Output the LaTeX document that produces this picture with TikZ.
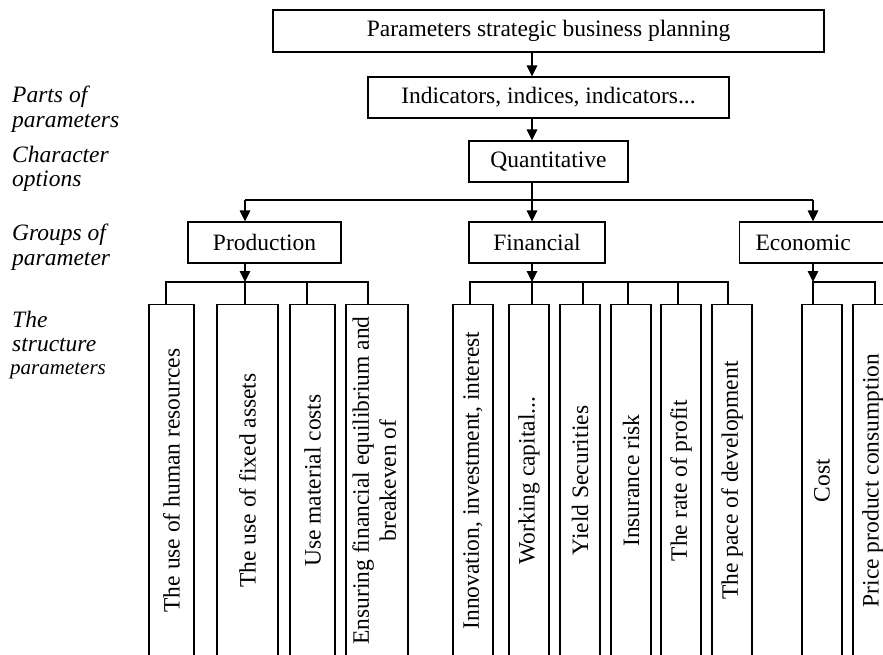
\documentclass[tikz,border=0pt]{standalone}
\usepackage{fontspec}
\setmainfont{Liberation Serif}
\usepackage{graphicx}
\usetikzlibrary{arrows.meta}
\begin{document}
\begin{tikzpicture}[x=1pt,y=-1pt,
  font=\fontsize{23.5}{27}\selectfont,
  box/.style={draw, line width=1.1pt, inner sep=0pt, minimum height=41pt},
  leaf/.style={draw, line width=1.1pt, inner sep=0pt, minimum height=352pt, anchor=north},
  lab/.style={anchor=base west, inner sep=0pt, font=\fontsize{23.5}{27}\selectfont\itshape},
  arr/.style={line width=1.1pt, -{Triangle[width=10.5pt,length=11pt]}},
  ln/.style={line width=1.1pt}]
\path[use as bounding box, clip] (0,0) rectangle (883,654);

% left labels
\node[lab] (la1) at (12,102) {Parts of};
\node[lab] (la2) at (12,127) {parameters};
\node[lab] (lb1) at (12,162) {Character};
\node[lab] (lb2) at (12,186) {options};
\node[lab] (lc1) at (12,240) {Groups of};
\node[lab] (lc2) at (12,265) {parameter};
\node[lab] (ld1) at (12,327) {The};
\node[lab] (ld2) at (12,351) {structure};
\node[lab, font=\fontsize{21}{24}\selectfont\itshape] (ld3) at (10,374) {parameters};

% top boxes
\node[box, minimum width=551pt, minimum height=42pt] (top) at (548.5,31) {Parameters strategic business planning};
\node[box, minimum width=361pt] (ind) at (548.5,97.5) {Indicators, indices, indicators...};
\node[box, minimum width=159pt] (quant) at (548.5,161.5) {Quantitative};

% groups
\node[box, minimum width=153pt] (prod) at (264.5,242.5) {Production};
\node[box, minimum width=136pt] (fin) at (537,242.5) {Financial};
\node[box, anchor=west, minimum width=170pt, inner xsep=16pt, text width=138pt, align=left] (econ) at (739,242.5) {Economic};

% leaves: production
\node[leaf, minimum width=45pt] (l1) at (171.5,304) {\rotatebox{90}{The use of human resources}};
\node[leaf, minimum width=61pt] (l2) at (247.5,304) {\rotatebox{90}{The use of fixed assets}};
\node[leaf, minimum width=45pt] (l3) at (312.5,304) {\rotatebox{90}{Use material costs}};
\node[leaf, minimum width=62pt] (l4) at (377,304) {\rotatebox{90}{\begin{tabular}{@{}c@{}}Ensuring financial equilibrium and\\ breakeven of\end{tabular}}};

% leaves: financial
\node[leaf, minimum width=40pt] (m1) at (473,304) {\rotatebox{90}{Innovation, investment, interest}};
\node[leaf, minimum width=40pt] (m2) at (529,304) {\rotatebox{90}{Working capital...}};
\node[leaf, minimum width=40pt] (m3) at (580,304) {\rotatebox{90}{Yield Securities}};
\node[leaf, minimum width=40pt] (m4) at (631,304) {\rotatebox{90}{Insurance risk}};
\node[leaf, minimum width=40pt] (m5) at (681,304) {\rotatebox{90}{The rate of profit}};
\node[leaf, minimum width=40pt] (m6) at (732,304) {\rotatebox{90}{The pace of development}};

% leaves: economic
\node[leaf, minimum width=40pt] (n1) at (822,304) {\rotatebox{90}{Cost}};
\node[leaf, minimum width=40pt] (n2) at (873,304) {\rotatebox{90}{Price product consumption}};

% top connectors
\coordinate (ax) at (532,0);
\draw[arr] (top.south -| ax) -- (ind.north -| ax);
\draw[arr] (ind.south -| ax) -- (quant.north -| ax);

\coordinate (b0) at (532,200);
\coordinate (bL) at (245,200);
\coordinate (bR) at (813,200);
\draw[ln] (quant.south -| b0) -- (b0);
\draw[ln] (bL) -- (bR);
\draw[arr] (bL) -- (bL |- prod.north);
\draw[arr] (b0) -- (b0 |- fin.north);
\draw[arr] (bR) -- (bR |- econ.north);

% production bus
\coordinate (p1) at (166,282);
\coordinate (p2) at (245,282);
\coordinate (p3) at (307,282);
\coordinate (p4) at (368,282);
\draw[arr] (p2 |- prod.south) -- (p2);
\draw[ln] (p1 |- l1.north) -- (p1) -- (p4) -- (p4 |- l4.north);
\draw[ln] (p2) -- (p2 |- l2.north);
\draw[ln] (p3) -- (p3 |- l3.north);

% financial bus
\coordinate (f1) at (470,282);
\coordinate (f2) at (532,282);
\coordinate (f3) at (583,282);
\coordinate (f4) at (628,282);
\coordinate (f5) at (678,282);
\coordinate (f6) at (728,282);
\draw[arr] (f2 |- fin.south) -- (f2);
\draw[ln] (f1 |- m1.north) -- (f1) -- (f6) -- (f6 |- m6.north);
\draw[ln] (f2) -- (f2 |- m2.north);
\draw[ln] (f3) -- (f3 |- m3.north);
\draw[ln] (f4) -- (f4 |- m4.north);
\draw[ln] (f5) -- (f5 |- m5.north);

% economic bus
\coordinate (e1) at (813,282);
\coordinate (e2) at (875,282);
\draw[arr] (e1 |- econ.south) -- (e1);
\draw[ln] (e1 |- n1.north) -- (e1) -- (e2) -- (e2 |- n2.north);
\end{tikzpicture}
\end{document}
